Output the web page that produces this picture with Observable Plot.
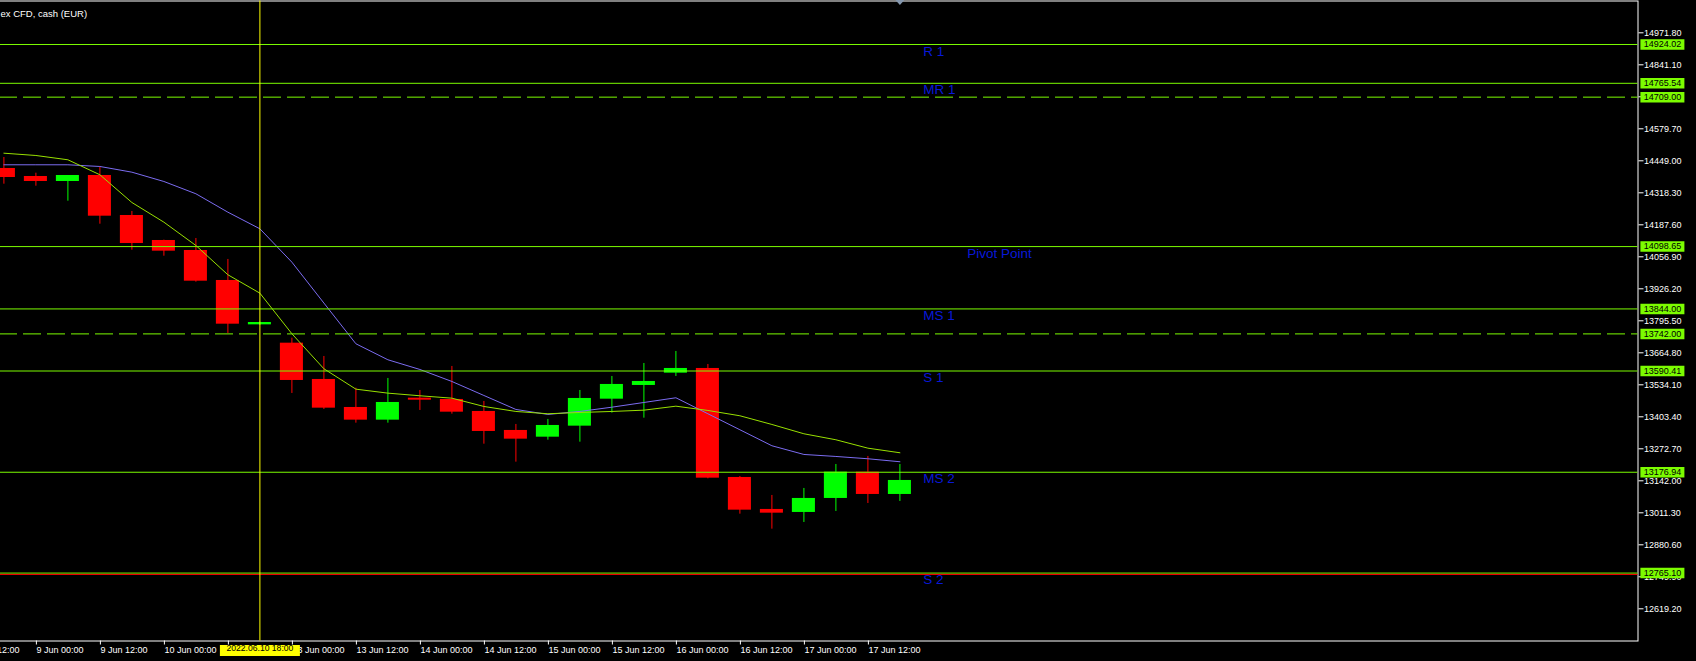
<!DOCTYPE html>
<html><head><meta charset="utf-8">
<script src="https://cdn.jsdelivr.net/npm/d3@7"></script>
<script src="https://cdn.jsdelivr.net/npm/@observablehq/plot@0.6"></script>
<style>html,body{margin:0;padding:0;background:#000;overflow:hidden}</style>
</head><body><div id="chart"></div>
<script>
// ---- data (H6 candles) ----
const times = ["2022.06.08 18:00","2022.06.09 00:00","2022.06.09 06:00","2022.06.09 12:00","2022.06.09 18:00",
  "2022.06.10 00:00","2022.06.10 06:00","2022.06.10 12:00","2022.06.10 18:00",
  "2022.06.13 00:00","2022.06.13 06:00","2022.06.13 12:00","2022.06.13 18:00",
  "2022.06.14 00:00","2022.06.14 06:00","2022.06.14 12:00","2022.06.14 18:00",
  "2022.06.15 00:00","2022.06.15 06:00","2022.06.15 12:00","2022.06.15 18:00",
  "2022.06.16 00:00","2022.06.16 06:00","2022.06.16 12:00","2022.06.16 18:00",
  "2022.06.17 00:00","2022.06.17 06:00","2022.06.17 12:00","2022.06.17 18:00"];
const open  = [14417.6,14384.9,14364.5,14389.0,14225.6,14123.5,14082.7,13960.2,13779.0,13704.1,13555.9,13441.5,13389.7,13479.5,13474.2,13425.2,13347.6,13320.2,13365.2,13475.4,13531.4,13581.6,13600.8,13155.6,13025.0,13012.7,13069.9,13177.3,13086.2];
const high  = [14462.5,14398.4,14389.0,14421.7,14242.0,14125.0,14131.7,14046.0,13790.0,13724.5,13649.8,13520.3,13560.0,13510.9,13609.0,13466.0,13372.1,13392.5,13510.9,13568.1,13621.2,13670.2,13617.1,13159.7,13082.1,13110.7,13208.7,13241.4,13208.7];
const low   = [14353.5,14345.3,14284.0,14190.1,14083.9,14059.4,13953.3,13743.8,13777.5,13498.7,13433.4,13377.4,13377.4,13429.3,13414.2,13291.6,13218.1,13308.0,13299.8,13418.3,13397.8,13568.1,13150.0,13005.7,12944.5,12971.8,13016.8,13049.4,13057.6];
const close = [14380.8,14364.5,14389.0,14222.8,14111.3,14079.9,13957.3,13781.7,13788.5,13551.8,13438.7,13389.7,13461.9,13471.3,13422.3,13343.5,13312.1,13368.0,13478.3,13535.5,13547.7,13600.8,13152.8,13022.1,13009.8,13069.9,13177.3,13086.2,13143.4];
const maFast = [14480.1,14470.7,14453.1,14391.9,14278.7,14198.3,14103.1,13983.5,13908.3,13742.5,13599.6,13516.3,13500.0,13489.3,13479.5,13445.6,13425.2,13415.8,13421.1,13425.2,13430.5,13446.8,13429.3,13407.6,13372.1,13334.1,13309.6,13275.3,13256.5];
const maSlow = [14432.7,14432.7,14432.7,14425.8,14402.5,14364.5,14314.3,14239.1,14171.3,14034.9,13868.0,13701.7,13636.3,13596.7,13547.7,13490.5,13433.4,13413.0,13425.2,13442.7,13461.9,13481.1,13415.8,13350.5,13285.1,13249.6,13241.4,13232.0,13219.8];

const levelValues = [14924.02,14765.54,14709.00,14098.65,13844.00,13742.00,13590.41,13176.94,12765.10];
const levelNames  = ["R 1","MR 1","","Pivot Point","MS 1","","S 1","MS 2","S 2"];
const levelDashed = [false,false,true,false,false,true,false,false,false];
const redLineValues = [12759.6];

const yTicks = [14971.80,14841.10,14710.40,14579.70,14449.00,14318.30,14187.60,14056.90,13926.20,13795.50,13664.80,13534.10,13403.40,13272.70,13142.00,13011.30,12880.60,12749.90,12619.20];
const xTickIndex  = [-1,1,3,5,7,9,11,13,15,17,19,21,23,25,27];
const xTickLabels = ["8 Jun 12:00","9 Jun 00:00","9 Jun 12:00","10 Jun 00:00","10 Jun 12:00","13 Jun 00:00","13 Jun 12:00","14 Jun 00:00","14 Jun 12:00","15 Jun 00:00","15 Jun 12:00","16 Jun 00:00","16 Jun 12:00","17 Jun 00:00","17 Jun 12:00"];
const crosshairIndex = 8;
const crosshairLabel = "2022.06.10 18:00";
const titleText = "ex CFD, cash (EUR)";

// ---- build tables ----
const candles = times.map((t, i) => ({i, t, open: open[i], high: high[i], low: low[i], close: close[i], fast: maFast[i], slow: maSlow[i]}));
const up = candles.filter(d => d.close >= d.open);
const down = candles.filter(d => d.close < d.open);
const levels = levelValues.map((v, i) => ({value: v, name: levelNames[i], dashed: levelDashed[i]}));
const lastIndex = candles.length - 1;

const GREEN = "#00ff00", RED = "#ff0000", LEVEL = "#7cfc00", BLUE = "#0818d8";
const box = (w, h) => ({draw(ctx) { ctx.rect(-w / 2, -h / 2, w, h); }});
const tri = {draw(ctx) { ctx.moveTo(-4.5, -1); ctx.lineTo(4.5, -1); ctx.lineTo(0, 4); ctx.closePath(); }};

const chart = Plot.plot({
  width: 1696, height: 661,
  marginLeft: -1, marginTop: 0.5, marginRight: 58.5, marginBottom: 20.5,
  style: {background: "#000", fontFamily: "'Liberation Sans', Arial, sans-serif"},
  x: {type: "linear", domain: [0, 28], range: [3.4, 899.4], axis: null},
  y: {type: "linear", domain: [12619.2, 14971.8], range: [608.3, 32.3], axis: null},
  marks: [
    Plot.frame({stroke: "#ffffff"}),
    Plot.ruleX(up, {x: "i", y1: "low", y2: "high", stroke: GREEN}),
    Plot.ruleX(down, {x: "i", y1: "low", y2: "high", stroke: RED}),
    Plot.rect(up, {x1: d => d.i - 0.36, x2: d => d.i + 0.36, y1: "open", y2: "close", fill: GREEN}),
    Plot.rect(down, {x1: d => d.i - 0.36, x2: d => d.i + 0.36, y1: "open", y2: "close", fill: RED}),
    Plot.line(candles, {x: "i", y: "slow", stroke: "#7b6cf0", strokeWidth: 1}),
    Plot.line(candles, {x: "i", y: "fast", stroke: "#98e000", strokeWidth: 1}),
    Plot.ruleY(levels.filter(d => !d.dashed), {y: "value", stroke: LEVEL}),
    Plot.ruleY(levels.filter(d => d.dashed), {y: "value", stroke: LEVEL, strokeDasharray: "18,6"}),
    Plot.ruleY(redLineValues, {stroke: RED}),
    Plot.ruleX([crosshairIndex], {x: d => d, stroke: "#ffff00"}),
    Plot.text(levels.filter(d => d.name && d.name !== "Pivot Point"), {x: () => lastIndex, y: "value", text: "name", textAnchor: "start", lineAnchor: "top", dx: 23.3, dy: 1.5, fill: BLUE, fontSize: 13.5}),
    Plot.text(levels.filter(d => d.name === "Pivot Point"), {x: () => lastIndex, y: "value", text: "name", textAnchor: "start", lineAnchor: "top", dx: 67.3, dy: 1.5, fill: BLUE, fontSize: 13.5}),
    Plot.axisY(yTicks, {anchor: "right", tickSize: 5, tickPadding: 1, tickFormat: d => d.toFixed(2), color: "#ffffff", fontSize: 9, label: null}),
    Plot.axisX(xTickIndex, {anchor: "bottom", tickSize: 4, tickPadding: 2, tickFormat: d => xTickLabels[xTickIndex.indexOf(d)], color: "#ffffff", fontSize: 9, textAnchor: "start", dx: 0.5, label: null}),
    Plot.dot(levels, {y: "value", frameAnchor: "right", dx: 24.4, symbol: box(44, 10.5), fill: LEVEL, r: 5}),
    Plot.text(levels, {y: "value", text: d => d.value.toFixed(2), frameAnchor: "right", dx: 24.4, textAnchor: "middle", fill: "#000000", fontSize: 9}),
    Plot.dot([crosshairIndex], {x: d => d, frameAnchor: "bottom", dy: 9.5, symbol: box(80, 11), fill: "#ffff00", r: 5}),
    Plot.text([crosshairIndex], {x: d => d, frameAnchor: "bottom", dy: 9.5, text: () => crosshairLabel, textAnchor: "middle", fill: "#000000", fontSize: 8.6}),
    Plot.dot([lastIndex], {x: d => d, frameAnchor: "top", symbol: tri, fill: "#8496ac", r: 4}),
    Plot.text([titleText], {text: d => d, frameAnchor: "top-left", dx: 1, dy: 9, textAnchor: "start", fill: "#ffffff", fontSize: 9.5})
  ]
});
document.getElementById("chart").appendChild(chart);
</script>
</body></html>
